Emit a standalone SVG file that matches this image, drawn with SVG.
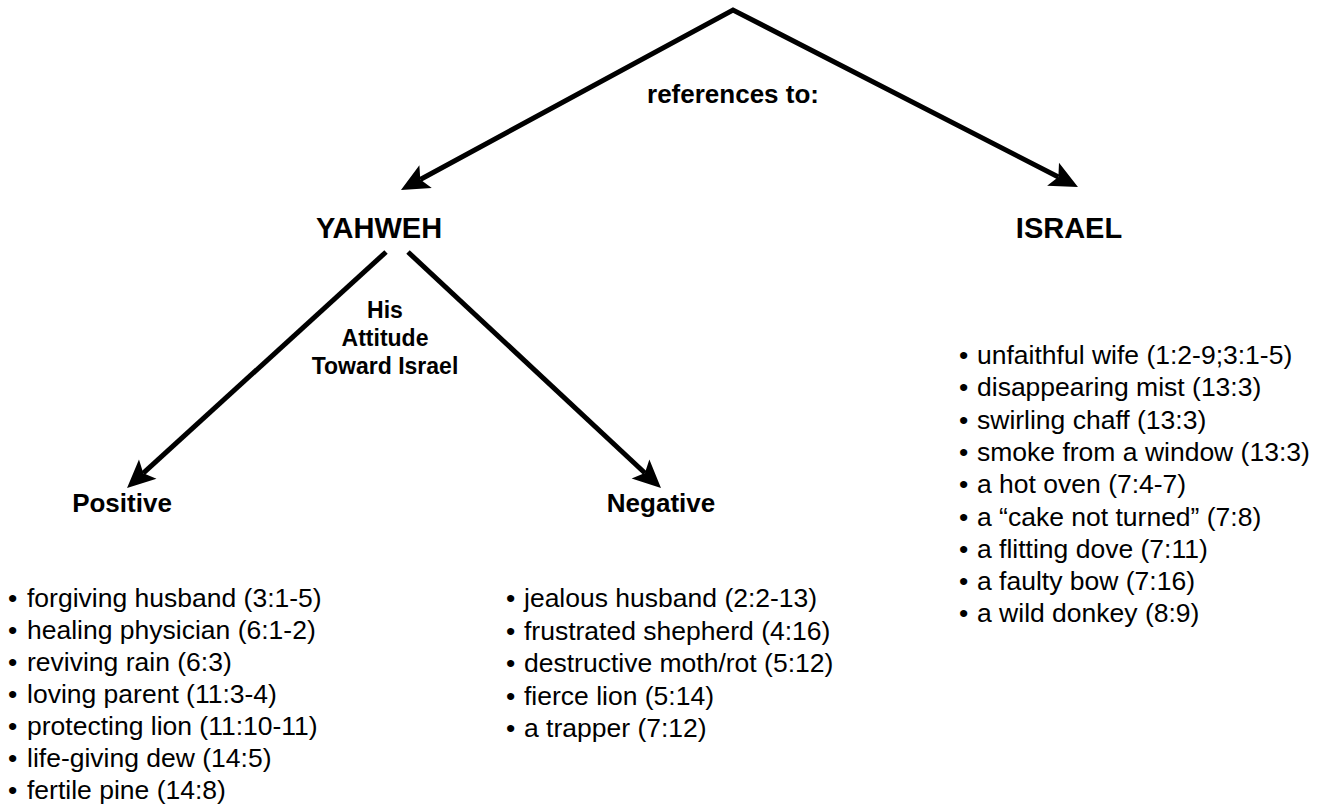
<svg xmlns="http://www.w3.org/2000/svg" width="1325" height="807" viewBox="0 0 1325 807">
<style>
.h{font-family:"Liberation Sans",Arial,Helvetica,sans-serif;font-weight:bold;fill:#000;text-anchor:middle}
.t{font-family:"Liberation Sans",Arial,Helvetica,sans-serif;fill:#000;font-size:26.5px}
.c{fill:none;stroke:#000;stroke-width:5;stroke-linejoin:miter;stroke-miterlimit:20}
</style>
<defs>
<marker id="ah" markerUnits="userSpaceOnUse" markerWidth="32" markerHeight="30" refX="6" refY="13" orient="auto-start-reverse" overflow="visible">
<path d="M0,0 L28,13 L0,26 L6,13 z" fill="#000"/>
</marker>
</defs>
<rect width="1325" height="807" fill="#fff"/>
<g id="connectors">
<path class="c" d="M420.3,179.5 L733,10 L1058.4,177" marker-start="url(#ah)" marker-end="url(#ah)"/>
<path class="c" d="M386,252 L143.3,473.2" marker-end="url(#ah)"/>
<path class="c" d="M408,252 L644.9,473" marker-end="url(#ah)"/>
</g>
<g id="label-references">
<text class="h" x="733" y="103" font-size="26">references to:</text>
</g>
<g id="node-yahweh">
<text class="h" x="379" y="238" font-size="29">YAHWEH</text>
</g>
<g id="node-israel">
<text class="h" x="1069" y="238" font-size="29">ISRAEL</text>
</g>
<g id="label-attitude">
<text class="h" font-size="23"><tspan x="385" y="318">His</tspan><tspan x="385" y="346">Attitude</tspan><tspan x="385" y="374">Toward Israel</tspan></text>
</g>
<g id="node-positive">
<text class="h" x="122" y="512" font-size="26">Positive</text>
<text class="t">
<tspan x="8" y="607">•</tspan><tspan x="27">forgiving husband (3:1-5)</tspan>
<tspan x="8" y="639">•</tspan><tspan x="27">healing physician (6:1-2)</tspan>
<tspan x="8" y="671">•</tspan><tspan x="27">reviving rain (6:3)</tspan>
<tspan x="8" y="703">•</tspan><tspan x="27">loving parent (11:3-4)</tspan>
<tspan x="8" y="735">•</tspan><tspan x="27">protecting lion (11:10-11)</tspan>
<tspan x="8" y="767">•</tspan><tspan x="27">life-giving dew (14:5)</tspan>
<tspan x="8" y="799">•</tspan><tspan x="27">fertile pine (14:8)</tspan>
</text>
</g>
<g id="node-negative">
<text class="h" x="661" y="512" font-size="26">Negative</text>
<text class="t">
<tspan x="506" y="607">•</tspan><tspan x="524">jealous husband (2:2-13)</tspan>
<tspan x="506" y="639.5">•</tspan><tspan x="524">frustrated shepherd (4:16)</tspan>
<tspan x="506" y="672">•</tspan><tspan x="524">destructive moth/rot (5:12)</tspan>
<tspan x="506" y="704.5">•</tspan><tspan x="524">fierce lion (5:14)</tspan>
<tspan x="506" y="737">•</tspan><tspan x="524">a trapper (7:12)</tspan>
</text>
</g>
<g id="list-israel">
<text class="t">
<tspan x="959" y="364">•</tspan><tspan x="977">unfaithful wife (1:2-9;3:1-5)</tspan>
<tspan x="959" y="396.3">•</tspan><tspan x="977">disappearing mist (13:3)</tspan>
<tspan x="959" y="428.6">•</tspan><tspan x="977">swirling chaff (13:3)</tspan>
<tspan x="959" y="460.9">•</tspan><tspan x="977">smoke from a window (13:3)</tspan>
<tspan x="959" y="493.2">•</tspan><tspan x="977">a hot oven (7:4-7)</tspan>
<tspan x="959" y="525.5">•</tspan><tspan x="977">a “cake not turned” (7:8)</tspan>
<tspan x="959" y="557.8">•</tspan><tspan x="977">a flitting dove (7:11)</tspan>
<tspan x="959" y="590.1">•</tspan><tspan x="977">a faulty bow (7:16)</tspan>
<tspan x="959" y="622.4">•</tspan><tspan x="977">a wild donkey (8:9)</tspan>
</text>
</g>
</svg>
